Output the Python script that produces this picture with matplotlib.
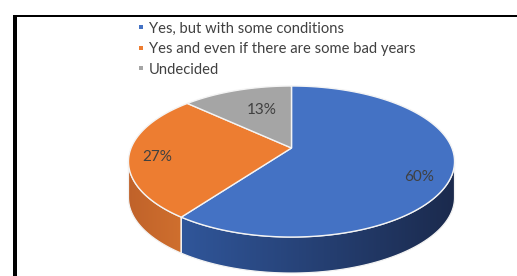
import numpy as np
import matplotlib
matplotlib.use("Agg")
import matplotlib.pyplot as plt
from matplotlib.patches import Polygon, Rectangle
from matplotlib.colors import to_rgb

# ---- data ----
categories = ["Yes, but with some conditions",
              "Yes and even if there are some bad years",
              "Undecided"]
values = [60, 27, 13]
labels = ["60%", "27%", "13%"]

top_colors = ["#4472C4", "#ED7D31", "#A5A5A5"]
side_colors = [("#30569A", "#1B2A4D"), ("#C0622A", "#CF6F2E"), ("#7F7F7F", "#6F6F6F")]

W, H = 517, 276
fig = plt.figure(figsize=(W / 100, H / 100), dpi=100)
ax = fig.add_axes([0, 0, 1, 1])
ax.set_xlim(0, W)
ax.set_ylim(H, 0)
ax.axis("off")

# perspective model of the tilted disc
cx, cy = 291.5, 148.0
A, B, k = 160.4, 73.1, 0.179
depth = 36.0


def proj(theta_deg, r=1.0):
    t = np.radians(theta_deg)
    u = r * np.sin(t)
    v = r * np.cos(t)
    den = 1 + k * v
    return cx + A * u / den, cy - B * v / den


total = float(sum(values))
bounds = np.concatenate([[0], np.cumsum(values) / total * 360.0])
front_lo = 90 + np.degrees(np.arcsin(k))
front_hi = 270 - np.degrees(np.arcsin(k))

# sides
for i in range(len(values)):
    a0, a1 = max(bounds[i], front_lo), min(bounds[i + 1], front_hi)
    if a1 <= a0:
        continue
    th = np.linspace(a0, a1, 200)
    xs, ys = proj(th)
    pts = np.column_stack([np.concatenate([xs, xs[::-1]]),
                           np.concatenate([ys, ys[::-1] + depth])])
    poly = Polygon(pts, closed=True, facecolor="none", edgecolor="none")
    ax.add_patch(poly)
    c0, c1 = np.array(to_rgb(side_colors[i][0])), np.array(to_rgb(side_colors[i][1]))
    n = 256
    tt = np.linspace(0, 1, n)[:, None]
    grad = (c0 * (1 - tt) + c1 * tt)[None, :, :]
    im = ax.imshow(grad, extent=(xs.min(), xs.max(), ys.max() + depth, ys.min()),
                   aspect="auto", interpolation="bilinear", zorder=1)
    im.set_clip_path(poly)
    edge = Polygon(pts, closed=True, facecolor="none", edgecolor="#F2F2F2",
                   lw=0.9, zorder=2)
    ax.add_patch(edge)

# top face
for i in range(len(values)):
    th = np.linspace(bounds[i], bounds[i + 1], 200)
    xs, ys = proj(th)
    pts = np.vstack([[cx, cy], np.column_stack([xs, ys])])
    ax.add_patch(Polygon(pts, closed=True, facecolor=top_colors[i],
                         edgecolor="#F4F4F4", lw=1.0, zorder=3))

ax.set_xlim(0, W)
ax.set_ylim(H, 0)

# data labels
label_r = [0.80, 0.83, 0.51]
label_dy = [10, 3, -6]
fontfam = ["Lato", "DejaVu Sans"]
txtcol = "#404040"
for i in range(len(values)):
    mid = (bounds[i] + bounds[i + 1]) / 2
    x, y = proj(mid, label_r[i])
    ax.text(x, y + label_dy[i], labels[i], ha="center", va="center",
            fontsize=11, color=txtcol, family=fontfam, zorder=5)

# legend
leg_x, leg_y0, leg_dy = 140.7, 27, 20.7
fig.canvas.draw()
renderer = fig.canvas.get_renderer()
t = ax.text(0, 0, categories[0], fontsize=10, family=fontfam)
w = t.get_window_extent(renderer).width
t.remove()
fs = 10 * 194.0 / w
for i, cat in enumerate(categories):
    y = leg_y0 + i * leg_dy
    ax.add_patch(Rectangle((leg_x - 2, y - 2), 4, 4, facecolor=top_colors[i],
                           edgecolor="none", zorder=5))
    ax.text(leg_x + 8.5, y, cat, ha="left", va="center_baseline", fontsize=fs,
            color=txtcol, family=fontfam, zorder=5)

# frame lines (partial border)
ax.add_patch(Rectangle((13.3, 15), 3.2, H - 15, facecolor="black", edgecolor="none", zorder=6))
ax.add_patch(Rectangle((13.3, 15), W - 13.3, 2.2, facecolor="black", edgecolor="none", zorder=6))

fig.savefig("out.png", dpi=100)
